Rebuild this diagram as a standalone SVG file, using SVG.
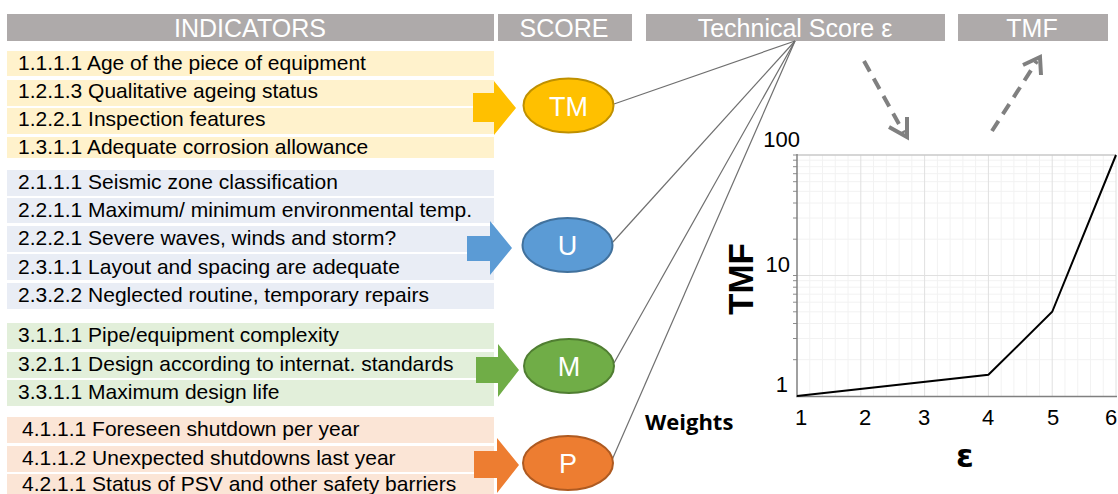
<svg xmlns="http://www.w3.org/2000/svg" width="1118" height="494" viewBox="0 0 1118 494">
<style>
.hdr{fill:#AEAAAA}
.htxt{font-family:"Liberation Sans",Arial,sans-serif;font-size:25px;fill:#FFFFFF;text-anchor:middle}
.row{font-family:"Liberation Sans",Arial,sans-serif;font-size:21px;fill:#000000}
.y{fill:#FFF2CC}.b{fill:#E9EDF5}.g{fill:#E2EFDA}.o{fill:#FBE5D6}
.etxt{font-family:"Liberation Sans",Arial,sans-serif;font-size:27px;fill:#FFFFFF;text-anchor:middle}
.conn{stroke:#6F6F6F;stroke-width:1.2;fill:none}
.dash{stroke:#808080;stroke-width:4;fill:none;stroke-dasharray:12 8}
.chev{stroke:#808080;stroke-width:4;fill:none}
.minor{stroke:#F2F2F2;stroke-width:1}
.major{stroke:#E0E0E0;stroke-width:1}
.ax{font-family:"Liberation Sans",Arial,sans-serif;font-size:22px;fill:#000000}
</style>
<rect width="1118" height="494" fill="#FFFFFF"/>
<g id="headers">
<rect class="hdr" x="7" y="14" width="487" height="27"/>
<text class="htxt" x="250" y="37">INDICATORS</text>
<rect class="hdr" x="498" y="14" width="134" height="27"/>
<text class="htxt" x="564" y="37">SCORE</text>
<rect class="hdr" x="646" y="14" width="299" height="27"/>
<text class="htxt" x="795" y="37">Technical Score ε</text>
<rect class="hdr" x="958" y="14" width="150" height="27"/>
<text class="htxt" x="1032" y="37">TMF</text>
</g>
<g id="group-TM-indicators">
<rect class="y" x="7" y="51" width="487" height="25"/>
<rect class="y" x="7" y="80" width="487" height="26"/>
<rect class="y" x="7" y="108" width="487" height="26"/>
<rect class="y" x="7" y="137" width="487" height="21"/>
<text class="row" x="18" y="70">1.1.1.1 Age of the piece of equipment</text>
<text class="row" x="18" y="98">1.2.1.3 Qualitative ageing status</text>
<text class="row" x="18" y="126">1.2.2.1 Inspection features</text>
<text class="row" x="18" y="154">1.3.1.1 Adequate corrosion allowance</text>
</g>
<g id="group-U-indicators">
<rect class="b" x="7" y="170" width="487" height="26"/>
<rect class="b" x="7" y="198" width="487" height="25"/>
<rect class="b" x="7" y="226" width="487" height="26"/>
<rect class="b" x="7" y="254" width="487" height="26"/>
<rect class="b" x="7" y="283" width="487" height="26"/>
<text class="row" x="18" y="189">2.1.1.1 Seismic zone classification</text>
<text class="row" x="18" y="217">2.2.1.1 Maximum/ minimum environmental temp.</text>
<text class="row" x="18" y="245">2.2.2.1 Severe waves, winds and storm?</text>
<text class="row" x="18" y="274">2.3.1.1 Layout and spacing are adequate</text>
<text class="row" x="18" y="302">2.3.2.2 Neglected routine, temporary repairs</text>
</g>
<g id="group-M-indicators">
<rect class="g" x="7" y="323" width="487" height="26"/>
<rect class="g" x="7" y="352" width="487" height="26"/>
<rect class="g" x="7" y="380" width="487" height="26"/>
<text class="row" x="18" y="342">3.1.1.1 Pipe/equipment complexity</text>
<text class="row" x="18" y="371">3.2.1.1 Design according to internat. standards</text>
<text class="row" x="18" y="399">3.3.1.1 Maximum design life</text>
</g>
<g id="group-P-indicators">
<rect class="o" x="7" y="417" width="487" height="26"/>
<rect class="o" x="7" y="446" width="487" height="26"/>
<rect class="o" x="7" y="474" width="487" height="20"/>
<text class="row" x="22" y="436">4.1.1.1 Foreseen shutdown per year</text>
<text class="row" x="22" y="465">4.1.1.2 Unexpected shutdowns last year</text>
<text class="row" x="22" y="491">4.2.1.1 Status of PSV and other safety barriers</text>
</g>
<g id="arrows">
<polygon fill="#FFC000" points="473,93 494,93 494,81 516,108 494,135 494,122 473,122"/>
<polygon fill="#5B9BD5" points="467,236 490,236 490,221 512,248 490,275 490,261 467,261"/>
<polygon fill="#70AD47" points="476,357 498,357 498,344 519,370 498,397 498,383 476,383"/>
<polygon fill="#ED7D31" points="474,451 497,451 497,438 519,465 497,493 497,478 474,478"/>
</g>
<g id="connectors">
<line class="conn" x1="795" y1="41" x2="614" y2="104"/>
<line class="conn" x1="795" y1="41" x2="612" y2="243"/>
<line class="conn" x1="795" y1="41" x2="614" y2="363"/>
<line class="conn" x1="795" y1="41" x2="612" y2="460"/>
<path class="dash" d="M864,61 L904,133"/>
<polyline class="chev" points="889,127 907,137 907,117"/>
<path class="dash" d="M992,131 L1037,61"/>
<polyline class="chev" points="1023,65 1040,57 1041,75"/>
</g>
<g id="node-TM">
<ellipse cx="568.5" cy="105.5" rx="45" ry="27" fill="#FFC000" stroke="#BF9000" stroke-width="2"/>
<text class="etxt" x="568.5" y="115.5">TM</text>
</g>
<g id="node-U">
<ellipse cx="567.5" cy="245" rx="45" ry="27" fill="#5B9BD5" stroke="#41719C" stroke-width="2"/>
<text class="etxt" x="567.5" y="255">U</text>
</g>
<g id="node-M">
<ellipse cx="569" cy="366" rx="45" ry="27" fill="#70AD47" stroke="#507E32" stroke-width="2"/>
<text class="etxt" x="569" y="376">M</text>
</g>
<g id="node-P">
<ellipse cx="568" cy="463" rx="45" ry="27" fill="#ED7D31" stroke="#AE5A21" stroke-width="2"/>
<text class="etxt" x="568" y="473">P</text>
</g>
<text x="645" y="430" font-family="'Open Sans',sans-serif" font-weight="bold" font-size="22px" fill="#000000">Weights</text>
<g id="chart">
<g class="minor">
<line x1="809.76" y1="155" x2="809.76" y2="396"/><line x1="822.52" y1="155" x2="822.52" y2="396"/><line x1="835.28" y1="155" x2="835.28" y2="396"/><line x1="848.04" y1="155" x2="848.04" y2="396"/>
<line x1="873.56" y1="155" x2="873.56" y2="396"/><line x1="886.32" y1="155" x2="886.32" y2="396"/><line x1="899.08" y1="155" x2="899.08" y2="396"/><line x1="911.84" y1="155" x2="911.84" y2="396"/>
<line x1="937.36" y1="155" x2="937.36" y2="396"/><line x1="950.12" y1="155" x2="950.12" y2="396"/><line x1="962.88" y1="155" x2="962.88" y2="396"/><line x1="975.64" y1="155" x2="975.64" y2="396"/>
<line x1="1001.16" y1="155" x2="1001.16" y2="396"/><line x1="1013.92" y1="155" x2="1013.92" y2="396"/><line x1="1026.68" y1="155" x2="1026.68" y2="396"/><line x1="1039.44" y1="155" x2="1039.44" y2="396"/>
<line x1="1064.96" y1="155" x2="1064.96" y2="396"/><line x1="1077.72" y1="155" x2="1077.72" y2="396"/><line x1="1090.48" y1="155" x2="1090.48" y2="396"/><line x1="1103.24" y1="155" x2="1103.24" y2="396"/>
<line x1="797" y1="359.7" x2="1116" y2="359.7"/><line x1="797" y1="338.5" x2="1116" y2="338.5"/><line x1="797" y1="323.5" x2="1116" y2="323.5"/><line x1="797" y1="311.8" x2="1116" y2="311.8"/>
<line x1="797" y1="302.2" x2="1116" y2="302.2"/><line x1="797" y1="294.2" x2="1116" y2="294.2"/><line x1="797" y1="287.2" x2="1116" y2="287.2"/><line x1="797" y1="280.7" x2="1116" y2="280.7"/>
<line x1="797" y1="239.2" x2="1116" y2="239.2"/><line x1="797" y1="218" x2="1116" y2="218"/><line x1="797" y1="203" x2="1116" y2="203"/><line x1="797" y1="191.3" x2="1116" y2="191.3"/>
<line x1="797" y1="181.7" x2="1116" y2="181.7"/><line x1="797" y1="173.7" x2="1116" y2="173.7"/><line x1="797" y1="166.7" x2="1116" y2="166.7"/><line x1="797" y1="160.2" x2="1116" y2="160.2"/>
</g>
<g class="major">
<line x1="860.8" y1="155" x2="860.8" y2="396"/><line x1="924.6" y1="155" x2="924.6" y2="396"/><line x1="988.4" y1="155" x2="988.4" y2="396"/><line x1="1052.2" y1="155" x2="1052.2" y2="396"/><line x1="1116" y1="155" x2="1116" y2="396"/>
<line x1="797" y1="275.5" x2="1116" y2="275.5"/>
</g>
<line x1="797" y1="155" x2="1116" y2="155" stroke="#C8C8C8" stroke-width="1.5"/>
<g stroke="#8C8C8C" stroke-width="1">
<line x1="793" y1="359.7" x2="797" y2="359.7"/><line x1="793" y1="338.5" x2="797" y2="338.5"/><line x1="793" y1="323.5" x2="797" y2="323.5"/><line x1="793" y1="311.8" x2="797" y2="311.8"/><line x1="793" y1="302.2" x2="797" y2="302.2"/><line x1="793" y1="294.2" x2="797" y2="294.2"/><line x1="793" y1="287.2" x2="797" y2="287.2"/><line x1="793" y1="280.7" x2="797" y2="280.7"/><line x1="793" y1="275.5" x2="797" y2="275.5"/>
<line x1="793" y1="239.2" x2="797" y2="239.2"/><line x1="793" y1="218" x2="797" y2="218"/><line x1="793" y1="203" x2="797" y2="203"/><line x1="793" y1="191.3" x2="797" y2="191.3"/><line x1="793" y1="181.7" x2="797" y2="181.7"/><line x1="793" y1="173.7" x2="797" y2="173.7"/><line x1="793" y1="166.7" x2="797" y2="166.7"/><line x1="793" y1="160.2" x2="797" y2="160.2"/><line x1="793" y1="155" x2="797" y2="155"/>
</g>
<line x1="797" y1="154" x2="797" y2="397" stroke="#808080" stroke-width="1.5"/>
<line x1="796" y1="396.5" x2="1117" y2="396.5" stroke="#808080" stroke-width="1.5"/>
<polyline points="797,396 988.4,374.8 1052.2,311.8 1116,155" fill="none" stroke="#000000" stroke-width="2"/>
<text class="ax" x="800" y="147" text-anchor="end">100</text>
<text class="ax" x="790" y="272" text-anchor="end">10</text>
<text class="ax" x="788" y="392" text-anchor="end">1</text>
<text class="ax" x="801" y="425" text-anchor="middle">1</text>
<text class="ax" x="865" y="425" text-anchor="middle">2</text>
<text class="ax" x="924" y="425" text-anchor="middle">3</text>
<text class="ax" x="988" y="425" text-anchor="middle">4</text>
<text class="ax" x="1053" y="425" text-anchor="middle">5</text>
<text class="ax" x="1111" y="425" text-anchor="middle">6</text>
<text x="753" y="279" transform="rotate(-90 753 279)" text-anchor="middle" font-family="'Liberation Sans',Arial,sans-serif" font-weight="bold" font-size="35px" fill="#000000">TMF</text>
<text x="965" y="467" text-anchor="middle" font-family="'DejaVu Sans',sans-serif" font-weight="bold" font-size="32px" fill="#000000">ε</text>
</g>
</svg>
